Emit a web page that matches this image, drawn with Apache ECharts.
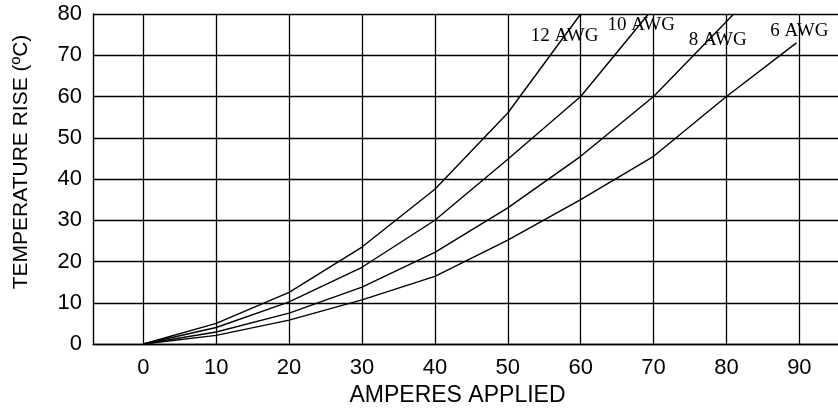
<!DOCTYPE html>
<html>
<head>
<meta charset="utf-8">
<script src="https://cdn.jsdelivr.net/npm/echarts@6/dist/echarts.min.js"></script>
<style>
  html, body { margin: 0; padding: 0; background: #fff; }
  #chart { width: 838px; height: 409px; }
</style>
</head>
<body>
<div id="chart"></div>
<script>
// amperes / temperature rise pairs
const awg12 = [[0, 0], [10, 5], [20, 12.5], [30, 23.5], [40, 37.5], [50, 56], [60, 80]]
const awg10 = [[0, 0], [10, 4], [20, 10.2], [30, 18.6], [40, 30], [50, 44.8], [60, 60], [69.3, 80]]
const awg8 = [[0, 0], [10, 2.9], [20, 7.5], [30, 13.8], [40, 22.2], [50, 33], [60, 45.5], [70, 60], [81, 80]]
const awg6 = [[0, 0], [10, 2.1], [20, 5.8], [30, 10.7], [40, 16.4], [50, 25.2], [60, 35], [70, 45.5], [80, 60], [89.6, 73]]

const seriesNames = ['12 AWG', '10 AWG', '8 AWG', '6 AWG']
const xTicks = [0, 10, 20, 30, 40, 50, 60, 70, 80, 90]

const chart = echarts.init(document.getElementById('chart'))

// curve name placed next to where each curve leaves the grid
const curve = (name, data, labelAt) => ({
  name: name,
  type: 'line',
  data: data,
  symbol: 'none',
  smooth: false,
  lineStyle: { color: '#000', width: 1.4 },
  markPoint: {
    symbol: 'circle',
    symbolSize: 0,
    silent: true,
    label: {
      show: true,
      position: 'inside',
      formatter: name,
      color: '#000',
      fontFamily: 'Liberation Serif',
      fontSize: 19
    },
    data: [{ coord: labelAt }]
  }
})

chart.setOption({
  animation: false,
  backgroundColor: '#fff',
  grid: {
    left: 93,
    right: 0,
    top: 14,
    bottom: 65,
    outerBoundsMode: 'none'
  },
  xAxis: {
    type: 'value',
    min: -6.9,
    max: 95.3,
    name: 'AMPERES APPLIED',
    nameLocation: 'middle',
    nameGap: 35,
    nameTextStyle: {
      color: '#000',
      fontFamily: 'Liberation Sans',
      fontSize: 23,
      padding: [0, 16, 0, 0]
    },
    axisLine: { show: true, onZero: false, lineStyle: { color: '#000', width: 1.4 } },
    axisTick: { show: false, customValues: xTicks },
    axisLabel: {
      customValues: xTicks,
      margin: 13,
      color: '#000',
      fontFamily: 'Liberation Sans',
      fontSize: 22
    },
    splitLine: { show: true, lineStyle: { color: '#000', width: 1.3 } }
  },
  yAxis: {
    type: 'value',
    min: 0,
    max: 80,
    interval: 10,
    name: 'TEMPERATURE RISE (ºC)',
    nameLocation: 'middle',
    nameGap: 61,
    nameTextStyle: {
      color: '#000',
      fontFamily: 'Liberation Sans',
      fontSize: 21,
      padding: [0, 0, 0, 34]
    },
    axisLine: { show: true, onZero: false, lineStyle: { color: '#000', width: 1.4 } },
    axisTick: { show: false },
    axisLabel: {
      margin: 11,
      color: '#000',
      fontFamily: 'Liberation Sans',
      fontSize: 22
    },
    splitLine: { show: true, lineStyle: { color: '#000', width: 1.3 } }
  },
  series: [
    curve(seriesNames[0], awg12, [57.8, 74.6]),
    curve(seriesNames[1], awg10, [68.3, 77.3]),
    curve(seriesNames[2], awg8, [78.8, 73.7]),
    curve(seriesNames[3], awg6, [90, 75.9])
  ]
})
</script>
</body>
</html>
